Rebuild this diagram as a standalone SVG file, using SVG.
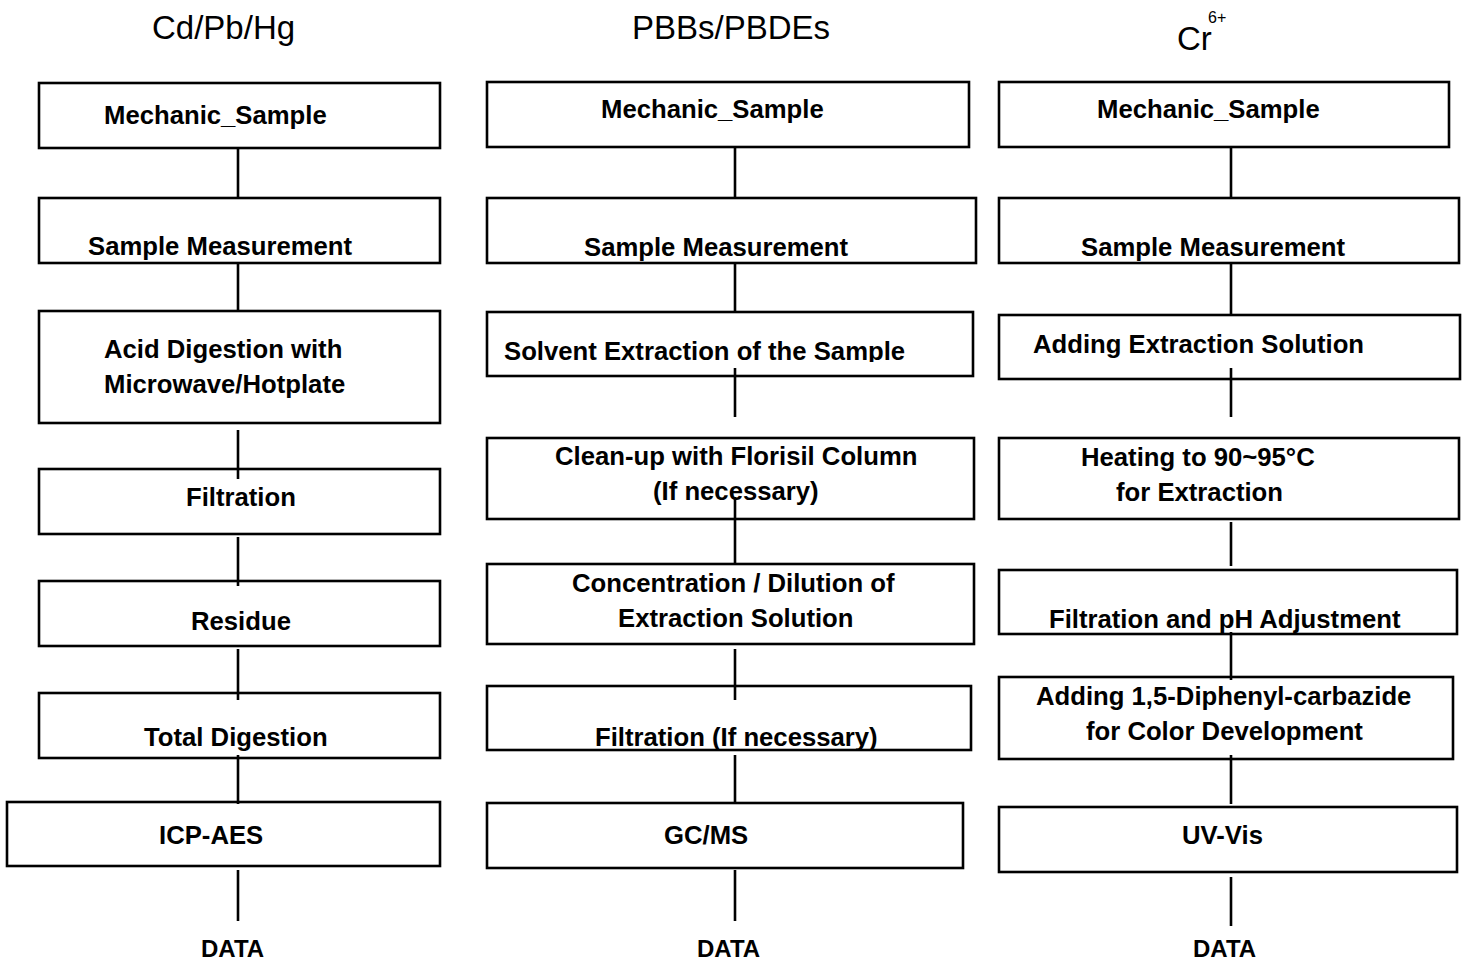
<svg xmlns="http://www.w3.org/2000/svg" width="1465" height="963" viewBox="0 0 1465 963">
<style>
.box{fill:#fff;stroke:#000;stroke-width:2.6}
.t{font-family:"Liberation Sans",Arial,sans-serif;font-weight:bold;font-size:25.7px;fill:#000}
.h{font-family:"Liberation Sans",Arial,sans-serif;font-size:33px;fill:#000}
.c{stroke:#000;stroke-width:2.6;fill:none}
.d{font-family:"Liberation Sans",Arial,sans-serif;font-weight:bold;font-size:24px;fill:#000}
</style>
<defs>
<clipPath id="clipSolv"><rect x="487" y="312" width="486" height="50"/></clipPath>
</defs>
<rect width="1465" height="963" fill="#fff"/>
<g id="headers">
<text class="h" x="152" y="39">Cd/Pb/Hg</text>
<text class="h" x="632" y="39">PBBs/PBDEs</text>
<text class="h" x="1177" y="50">Cr</text>
<text class="h" x="1208" y="23" style="font-size:16px">6+</text>
</g>
<!-- Column 1 -->
<g id="c1n1"><rect class="box" x="39" y="83" width="401" height="65"/><text class="t" x="104" y="124">Mechanic_Sample</text></g>
<g id="c1n2"><rect class="box" x="39" y="198" width="401" height="65"/><text class="t" x="88" y="255">Sample Measurement</text></g>
<g id="c1n3"><rect class="box" x="39" y="311" width="401" height="112"/><text class="t" x="104" y="358">Acid Digestion with</text><text class="t" x="104" y="393">Microwave/Hotplate</text></g>
<g id="c1n4"><rect class="box" x="39" y="469" width="401" height="65"/><text class="t" x="186" y="506">Filtration</text></g>
<g id="c1n5"><rect class="box" x="39" y="581" width="401" height="65"/><text class="t" x="191" y="630">Residue</text></g>
<g id="c1n6"><rect class="box" x="39" y="693" width="401" height="65"/><text class="t" x="144" y="746">Total Digestion</text></g>
<g id="c1n7"><rect class="box" x="7" y="802" width="433" height="64"/><text class="t" x="159" y="844">ICP-AES</text></g>
<g id="c1data"><text class="d" x="201" y="957">DATA</text></g>
<!-- Column 2 -->
<g id="c2n1"><rect class="box" x="487" y="82" width="482" height="65"/><text class="t" x="601" y="118">Mechanic_Sample</text></g>
<g id="c2n2"><rect class="box" x="487" y="198" width="489" height="65"/><text class="t" x="584" y="256">Sample Measurement</text></g>
<g id="c2n3"><rect class="box" x="487" y="312" width="486" height="64"/><text class="t" x="504" y="360" clip-path="url(#clipSolv)">Solvent Extraction of the Sample</text></g>
<g id="c2n4"><rect class="box" x="487" y="438" width="487" height="81"/><text class="t" x="555" y="465">Clean-up with Florisil Column</text><text class="t" x="653" y="500">(If necessary)</text></g>
<g id="c2n5"><rect class="box" x="487" y="564" width="487" height="80"/><text class="t" x="572" y="592">Concentration / Dilution of</text><text class="t" x="618" y="627">Extraction Solution</text></g>
<g id="c2n6"><rect class="box" x="487" y="686" width="484" height="64"/><text class="t" x="595" y="746">Filtration (If necessary)</text></g>
<g id="c2n7"><rect class="box" x="487" y="803" width="476" height="65"/><text class="t" x="664" y="844">GC/MS</text></g>
<g id="c2data"><text class="d" x="697" y="957">DATA</text></g>
<!-- Column 3 -->
<g id="c3n1"><rect class="box" x="999" y="82" width="450" height="65"/><text class="t" x="1097" y="118">Mechanic_Sample</text></g>
<g id="c3n2"><rect class="box" x="999" y="198" width="460" height="65"/><text class="t" x="1081" y="256">Sample Measurement</text></g>
<g id="c3n3"><rect class="box" x="999" y="315" width="461" height="64"/><text class="t" x="1033" y="353">Adding Extraction Solution</text></g>
<g id="c3n4"><rect class="box" x="999" y="438" width="460" height="81"/><text class="t" x="1081" y="466">Heating to 90~95°C</text><text class="t" x="1116" y="501">for Extraction</text></g>
<g id="c3n5"><rect class="box" x="999" y="570" width="458" height="64"/><text class="t" x="1049" y="628">Filtration and pH Adjustment</text></g>
<g id="c3n6"><rect class="box" x="999" y="677" width="454" height="82"/><text class="t" x="1036" y="705">Adding 1,5-Diphenyl-carbazide</text><text class="t" x="1086" y="740">for Color Development</text></g>
<g id="c3n7"><rect class="box" x="999" y="807" width="458" height="65"/><text class="t" x="1182" y="844">UV-Vis</text></g>
<g id="c3data"><text class="d" x="1193" y="957">DATA</text></g>
<!-- Connectors -->
<g id="connectors" class="c">
<line x1="238" y1="148" x2="238" y2="199"/>
<line x1="238" y1="263" x2="238" y2="312"/>
<line x1="238" y1="430" x2="238" y2="479"/>
<line x1="238" y1="537" x2="238" y2="586"/>
<line x1="238" y1="649" x2="238" y2="700"/>
<line x1="238" y1="755" x2="238" y2="804"/>
<line x1="238" y1="870" x2="238" y2="921"/>
<line x1="735" y1="147" x2="735" y2="199"/>
<line x1="735" y1="263" x2="735" y2="312"/>
<line x1="735" y1="368" x2="735" y2="417"/>
<line x1="735" y1="497" x2="735" y2="563"/>
<line x1="735" y1="649" x2="735" y2="700"/>
<line x1="735" y1="755" x2="735" y2="803"/>
<line x1="735" y1="870" x2="735" y2="921"/>
<line x1="1231" y1="147" x2="1231" y2="199"/>
<line x1="1231" y1="263" x2="1231" y2="315"/>
<line x1="1231" y1="368" x2="1231" y2="417"/>
<line x1="1231" y1="522" x2="1231" y2="566"/>
<line x1="1231" y1="632" x2="1231" y2="680"/>
<line x1="1231" y1="755" x2="1231" y2="804"/>
<line x1="1231" y1="877" x2="1231" y2="926"/>
</g>
</svg>
